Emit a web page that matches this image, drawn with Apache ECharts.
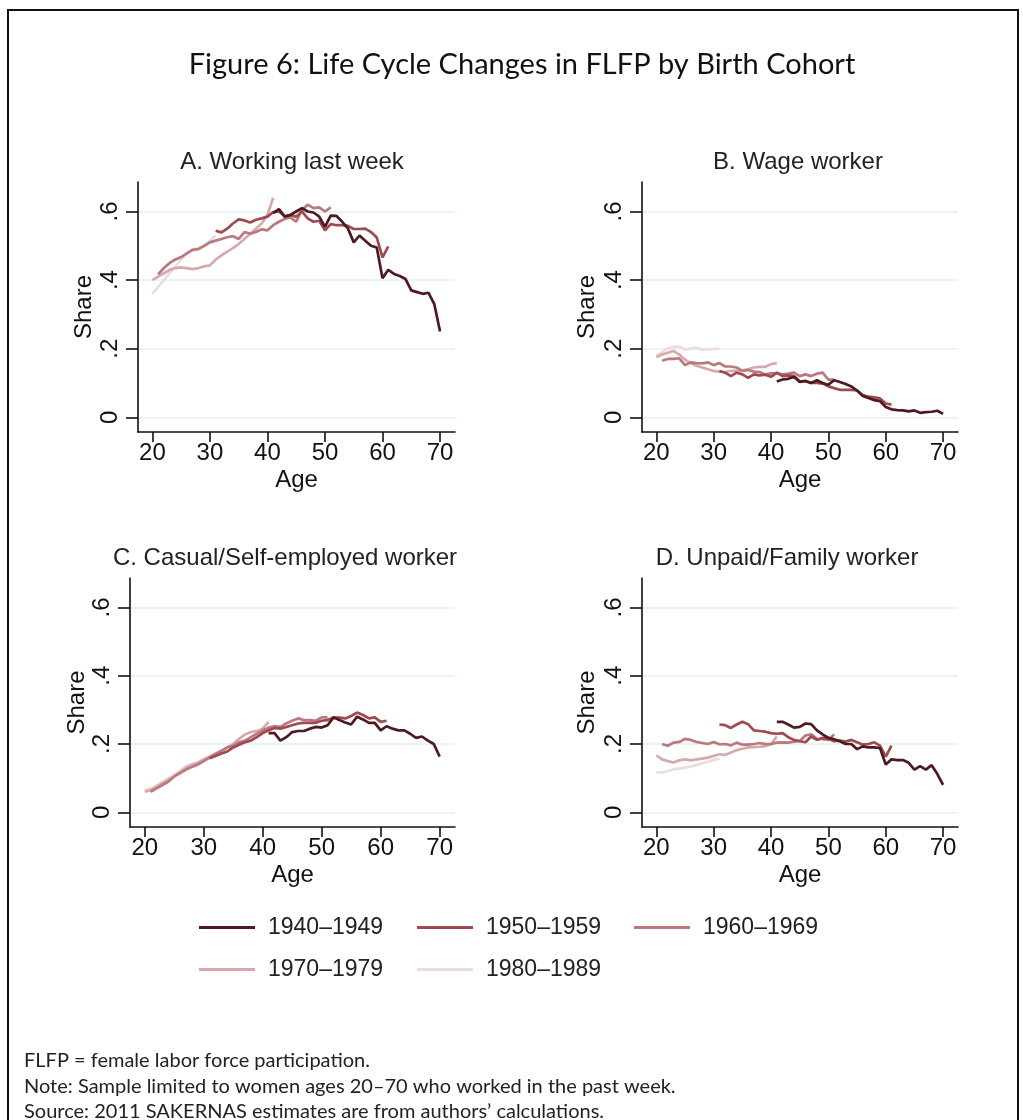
<!DOCTYPE html>
<html lang="en">
<head>
<meta charset="UTF-8" />
<title>Figure 6: Life Cycle Changes in FLFP by Birth Cohort</title>
<script src="https://cdn.jsdelivr.net/npm/echarts@6/dist/echarts.min.js"></script>
<style>
  html, body { margin: 0; padding: 0; background: #fff; }
  #chart { width: 1023px; height: 1120px; }
</style>
</head>
<body>
<div id="chart"></div>
<script>
var cohortNames = ['1940–1949', '1950–1959', '1960–1969', '1970–1979', '1980–1989'];
var cohortColors = ['#4d1a1f', '#9e4a50', '#b9797d', '#d6aaab', '#ecdcdc'];
var cohortStartAge = [41, 31, 21, 20, 20];
var ageTicks = [20, 30, 40, 50, 60, 70];
var shareTicks = [0, 0.2, 0.4, 0.6];
var panelTitles = ['A. Working last week', 'B. Wage worker', 'C. Casual/Self-employed worker', 'D. Unpaid/Family worker'];

// A. Working last week (each array starts at the cohort's first age)
var workA40 = [0.595, 0.607, 0.585, 0.59, 0.60, 0.61, 0.60, 0.597, 0.585, 0.555, 0.588, 0.587, 0.57, 0.55, 0.51, 0.53, 0.515, 0.50, 0.495, 0.405, 0.43, 0.418, 0.412, 0.403, 0.37, 0.365, 0.36, 0.363, 0.33, 0.25];
var workA50 = [0.544, 0.539, 0.55, 0.565, 0.577, 0.574, 0.568, 0.576, 0.58, 0.585, 0.598, 0.60, 0.586, 0.59, 0.585, 0.60, 0.58, 0.57, 0.573, 0.545, 0.563, 0.56, 0.56, 0.558, 0.549, 0.549, 0.55, 0.54, 0.524, 0.466, 0.498];
var workA60 = [0.417, 0.435, 0.45, 0.46, 0.467, 0.478, 0.488, 0.49, 0.50, 0.51, 0.515, 0.52, 0.525, 0.528, 0.52, 0.54, 0.535, 0.54, 0.548, 0.545, 0.56, 0.57, 0.578, 0.583, 0.57, 0.605, 0.62, 0.61, 0.612, 0.60, 0.612];
var workA70 = [0.40, 0.41, 0.42, 0.43, 0.435, 0.437, 0.435, 0.432, 0.435, 0.44, 0.443, 0.46, 0.472, 0.483, 0.493, 0.505, 0.52, 0.535, 0.55, 0.565, 0.59, 0.64];
var workA80 = [0.36, 0.38, 0.40, 0.42, 0.44, 0.46, 0.48, 0.49, 0.493, 0.50, 0.515, 0.53];

// B. Wage worker
var wageB40 = [0.104, 0.11, 0.112, 0.118, 0.103, 0.106, 0.1, 0.108, 0.1, 0.095, 0.108, 0.103, 0.097, 0.09, 0.078, 0.062, 0.056, 0.05, 0.047, 0.03, 0.023, 0.021, 0.02, 0.017, 0.02, 0.013, 0.015, 0.016, 0.019, 0.01];
var wageB50 = [0.135, 0.13, 0.12, 0.13, 0.125, 0.115, 0.125, 0.122, 0.124, 0.118, 0.13, 0.12, 0.122, 0.12, 0.105, 0.105, 0.1, 0.1, 0.098, 0.09, 0.085, 0.08, 0.08, 0.08, 0.078, 0.065, 0.06, 0.058, 0.055, 0.04, 0.037];
var wageB60 = [0.165, 0.17, 0.17, 0.172, 0.152, 0.16, 0.158, 0.157, 0.16, 0.152, 0.158, 0.148, 0.148, 0.145, 0.135, 0.138, 0.133, 0.132, 0.125, 0.128, 0.128, 0.125, 0.127, 0.13, 0.12, 0.125, 0.12, 0.127, 0.13, 0.11, 0.11];
var wageB70 = [0.175, 0.183, 0.188, 0.193, 0.183, 0.168, 0.158, 0.15, 0.145, 0.14, 0.135, 0.133, 0.132, 0.135, 0.135, 0.137, 0.14, 0.145, 0.147, 0.147, 0.155, 0.158];
var wageB80 = [0.18, 0.19, 0.2, 0.205, 0.206, 0.198, 0.2, 0.203, 0.197, 0.198, 0.199, 0.2];

// C. Casual/Self-employed worker
var casualC40 = [0.232, 0.232, 0.21, 0.22, 0.235, 0.238, 0.238, 0.245, 0.25, 0.248, 0.255, 0.278, 0.27, 0.263, 0.257, 0.28, 0.272, 0.262, 0.262, 0.24, 0.252, 0.245, 0.24, 0.24, 0.23, 0.218, 0.222, 0.21, 0.2, 0.163];
var casualC50 = [0.158, 0.165, 0.172, 0.178, 0.19, 0.198, 0.205, 0.21, 0.22, 0.232, 0.24, 0.247, 0.245, 0.25, 0.255, 0.26, 0.262, 0.262, 0.262, 0.268, 0.27, 0.278, 0.277, 0.275, 0.282, 0.292, 0.285, 0.275, 0.278, 0.265, 0.268];
var casualC60 = [0.06, 0.07, 0.08, 0.09, 0.105, 0.115, 0.125, 0.133, 0.14, 0.15, 0.16, 0.17, 0.18, 0.19, 0.195, 0.205, 0.21, 0.22, 0.23, 0.24, 0.248, 0.252, 0.25, 0.26, 0.268, 0.275, 0.27, 0.27, 0.268, 0.278, 0.278];
var casualC70 = [0.06, 0.065, 0.075, 0.085, 0.095, 0.105, 0.118, 0.13, 0.14, 0.145, 0.155, 0.163, 0.172, 0.18, 0.19, 0.2, 0.215, 0.228, 0.235, 0.238, 0.245, 0.265];
var casualC80 = [0.065, 0.07, 0.078, 0.09, 0.1, 0.11, 0.122, 0.135, 0.14, 0.145, 0.155, 0.165];

// D. Unpaid/Family worker
var unpaidD40 = [0.265, 0.265, 0.257, 0.248, 0.25, 0.26, 0.258, 0.24, 0.228, 0.218, 0.214, 0.208, 0.2, 0.2, 0.185, 0.193, 0.19, 0.19, 0.188, 0.14, 0.155, 0.153, 0.153, 0.145, 0.125, 0.135, 0.125, 0.138, 0.112, 0.08];
var unpaidD50 = [0.257, 0.255, 0.247, 0.257, 0.265, 0.258, 0.24, 0.238, 0.236, 0.232, 0.23, 0.232, 0.22, 0.212, 0.208, 0.205, 0.222, 0.212, 0.218, 0.215, 0.208, 0.21, 0.207, 0.212, 0.205, 0.198, 0.2, 0.205, 0.195, 0.163, 0.195];
var unpaidD60 = [0.2, 0.195, 0.204, 0.206, 0.215, 0.212, 0.206, 0.203, 0.2, 0.206, 0.199, 0.2, 0.196, 0.204, 0.198, 0.198, 0.2, 0.203, 0.2, 0.2, 0.204, 0.205, 0.204, 0.207, 0.209, 0.225, 0.228, 0.215, 0.214, 0.212, 0.228];
var unpaidD70 = [0.167, 0.155, 0.15, 0.146, 0.152, 0.155, 0.152, 0.155, 0.157, 0.16, 0.165, 0.17, 0.168, 0.175, 0.182, 0.186, 0.19, 0.191, 0.192, 0.194, 0.199, 0.222];
var unpaidD80 = [0.118, 0.116, 0.121, 0.126, 0.128, 0.131, 0.134, 0.138, 0.144, 0.148, 0.153, 0.157];

var panelValues = [
  [workA40, workA50, workA60, workA70, workA80],
  [wageB40, wageB50, wageB60, wageB70, wageB80],
  [casualC40, casualC50, casualC60, casualC70, casualC80],
  [unpaidD40, unpaidD50, unpaidD60, unpaidD70, unpaidD80]
];

var chart = echarts.init(document.getElementById('chart'));

var axisFont = "'Liberation Sans', Arial, sans-serif";
var noteFont = "Lato, 'Open Sans', sans-serif";

// plot boxes of the four panels
var panelBox = [
  { left: 138, top: 182, width: 317, height: 250, nameGap: 42, titleX: 292, titleY: 162 },
  { left: 642, top: 182, width: 316, height: 250, nameGap: 43, titleX: 798, titleY: 162 },
  { left: 130, top: 578, width: 325, height: 249, nameGap: 35, titleX: 285, titleY: 558 },
  { left: 642, top: 578, width: 316, height: 249, nameGap: 43, titleX: 787, titleY: 558 }
];

function pairs(startAge, vals) {
  var out = [];
  for (var i = 0; i < vals.length; i += 1) {
    out.push([startAge + i, vals[i]]);
  }
  return out;
}

function shareLabel(v) {
  if (Math.abs(v) < 1e-9) return '0';
  return String(Math.round(v * 10) / 10).replace('0.', '.');
}

var grids = [], xAxes = [], yAxes = [], series = [], texts = [];
panelBox.forEach(function (b, p) {
  grids.push({ left: b.left, top: b.top, width: b.width, height: b.height, containLabel: false });
  xAxes.push({
    type: 'value', gridIndex: p, min: 17.5, max: 72.6,
    name: 'Age', nameLocation: 'middle', nameGap: 36,
    nameTextStyle: { fontSize: 24, color: '#111', fontFamily: axisFont },
    axisLine: { show: true, onZero: false, lineStyle: { color: '#111', width: 1.6 } },
    axisTick: { show: true, length: 10, customValues: ageTicks, lineStyle: { color: '#111', width: 1.6 } },
    axisLabel: { customValues: ageTicks, fontSize: 24, color: '#111', fontFamily: axisFont, margin: 9 },
    splitLine: { show: false }
  });
  yAxes.push({
    type: 'value', gridIndex: p, min: -0.043, max: 0.686,
    name: 'Share', nameLocation: 'middle', nameRotate: 90, nameGap: b.nameGap,
    nameTextStyle: { fontSize: 24, color: '#111', fontFamily: axisFont },
    axisLine: { show: true, onZero: false, lineStyle: { color: '#111', width: 1.6 } },
    axisTick: { show: true, length: 12, customValues: shareTicks, lineStyle: { color: '#111', width: 1.6 } },
    axisLabel: { customValues: shareTicks, rotate: 90, fontSize: 24, color: '#111', fontFamily: axisFont, margin: 16, formatter: shareLabel },
    splitLine: { show: true, lineStyle: { color: '#e6eff1', width: 1.6 } }
  });
  panelValues[p].forEach(function (vals, c) {
    series.push({
      type: 'line', name: cohortNames[c], xAxisIndex: p, yAxisIndex: p,
      data: pairs(cohortStartAge[c], vals),
      showSymbol: false, symbol: 'none', silent: true,
      lineStyle: { color: cohortColors[c], width: 2.7 },
      itemStyle: { color: cohortColors[c] },
      z: 10 - c
    });
  });
  texts.push({
    type: 'text', x: b.titleX, y: b.titleY,
    style: { text: panelTitles[p], fill: '#222', font: '24px ' + axisFont, textAlign: 'center', textVerticalAlign: 'middle', align: 'center', verticalAlign: 'middle' }
  });
});

// legend: three items in the first row, two in the second
var legendLeft = [199, 417, 634, 199, 417];
var legendTop = [916, 916, 916, 958, 958];
var legends = cohortNames.map(function (n, i) {
  return {
    data: [n], left: legendLeft[i], top: legendTop[i], padding: 0,
    icon: 'rect', itemWidth: 56, itemHeight: 3, selectedMode: false,
    textStyle: { fontSize: 23, color: '#222', fontFamily: axisFont, padding: [0, 0, 0, 8] }
  };
});

texts.push({
  type: 'text', x: 522, y: 65,
  style: { text: 'Figure 6: Life Cycle Changes in FLFP by Birth Cohort', fill: '#111', font: '29px ' + noteFont, textAlign: 'center', textVerticalAlign: 'middle', align: 'center', verticalAlign: 'middle' }
});
var noteLines = [
  'FLFP = female labor force participation.',
  'Note: Sample limited to women ages 20–70 who worked in the past week.',
  'Source: 2011 SAKERNAS estimates are from authors’ calculations.'
];
var noteY = [1061, 1087, 1112];
noteLines.forEach(function (t, i) {
  texts.push({
    type: 'text', x: 24, y: noteY[i],
    style: { text: t, fill: '#222', font: '20px ' + noteFont, textAlign: 'left', textVerticalAlign: 'middle', align: 'left', verticalAlign: 'middle' }
  });
});
// outer frame of the figure
texts.push({
  type: 'rect', shape: { x: 8, y: 10, width: 1010, height: 1140 },
  style: { fill: 'none', stroke: '#111', lineWidth: 2 }, silent: true
});

chart.setOption({
  animation: false,
  backgroundColor: '#fff',
  grid: grids,
  xAxis: xAxes,
  yAxis: yAxes,
  legend: legends,
  series: series,
  graphic: { elements: texts }
});
</script>
</body>
</html>
